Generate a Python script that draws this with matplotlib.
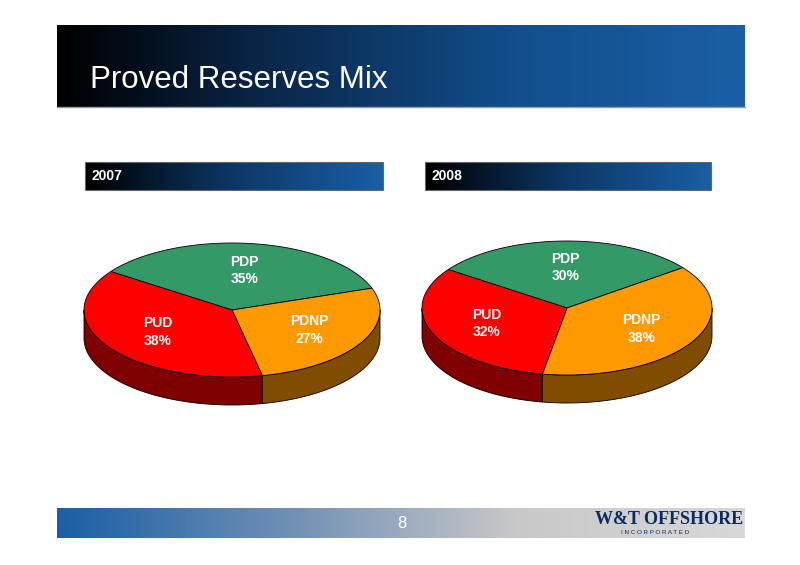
import numpy as np
import matplotlib
matplotlib.use("Agg")
import matplotlib.pyplot as plt
from matplotlib.colors import LinearSegmentedColormap

plt.rcParams['font.family'] = ['Liberation Sans', 'DejaVu Sans']

title = "Proved Reserves Mix"
years = ["2007", "2008"]
categories = ["PDP", "PDNP", "PUD"]
values_2007 = [35, 27, 38]
values_2008 = [30, 38, 32]
page = "8"

top_colors = {"PDP": "#339966", "PDNP": "#ff9900", "PUD": "#ff0000"}
side_colors = {"PDP": "#1a4d33", "PDNP": "#7f4c00", "PUD": "#7f0000"}

fig = plt.figure(figsize=(8, 5.65), dpi=100)
ax = fig.add_axes([0, 0, 1, 1])
ax.set_xlim(0, 800); ax.set_ylim(565, 0); ax.axis('off')

def grad(x0, x1, y0, y1, colors):
    cmap = LinearSegmentedColormap.from_list("g", colors)
    g = np.linspace(0, 1, 256)[None, :]
    ax.imshow(g, cmap=cmap, extent=[x0, x1, y1, y0], aspect='auto', zorder=1)

grad(57, 745, 25, 107, ["#000000", "#0a2a50", "#124f8c", "#1a5fa5"])
ax.plot([57, 745], [107, 107], color="#999999", lw=1, zorder=2)
ax.text(90, 88, title, color="white", fontsize=22.5, zorder=3)

for x0, x1, yr in [(85, 383, years[0]), (425, 711, years[1])]:
    grad(x0, x1, 162, 190, ["#000000", "#0d3866", "#1a5fa5"])
    ax.add_patch(plt.Rectangle((x0, 162), x1 - x0, 28, fill=False, ec="#666666", lw=0.8, zorder=2))
    ax.text(x0 + 7, 176, yr, color="white", fontsize=10, fontweight='bold', va='center', zorder=3)

grad(57, 745, 508, 538, ["#1a5fa5", "#6f8fb5", "#c8c8c8", "#d8d8d8"])
ax.text(402, 523, page, color="white", fontsize=12, ha='center', va='center', zorder=3)
ax.text(595, 519, "W&T OFFSHORE", color="#0a2a60", fontsize=13, fontweight='bold',
        family=['Liberation Serif'], va='center', zorder=3)
ax.text(655, 533, "I N C O R P O R A T E D", color="#0a2a60", fontsize=4.5, ha='center', va='center', zorder=3)

def pie3d(cx, cy, rx, ry, depth, vals, start):
    angs = [start]
    for v in vals:
        angs.append(angs[-1] - 360 * v / sum(vals))
    for i, c in enumerate(categories):
        a0, a1 = angs[i + 1], angs[i]
        t = np.radians(np.linspace(a0, a1, 200))
        vis = np.sin(t) < 0
        if not vis.any():
            continue
        tv = t[vis]
        xs = cx + rx * np.cos(tv); ys = cy - ry * np.sin(tv)
        px = np.concatenate([xs, xs[::-1]]); py = np.concatenate([ys, ys[::-1] + depth])
        ax.fill(px, py, color=side_colors[c], ec="black", lw=0.6, zorder=4)
    for i, c in enumerate(categories):
        a0, a1 = angs[i + 1], angs[i]
        t = np.radians(np.linspace(a0, a1, 200))
        px = np.concatenate([[cx], cx + rx * np.cos(t), [cx]])
        py = np.concatenate([[cy], cy - ry * np.sin(t), [cy]])
        ax.fill(px, py, color=top_colors[c], ec="black", lw=0.6, zorder=5)
        tm = np.radians((a0 + a1) / 2)
        lx = cx + 0.6 * rx * np.cos(tm); ly = cy - 0.6 * ry * np.sin(tm)
        ax.text(lx, ly, f"{c}\n{vals[i]}%", color="white", fontsize=10, fontweight='bold',
                ha='center', va='center', linespacing=1.3, zorder=6)

pie3d(232, 310, 148, 67, 28, values_2007, 145)
pie3d(567, 308, 145, 67, 28, values_2008, 145)

fig.savefig("out.png", dpi=100)
